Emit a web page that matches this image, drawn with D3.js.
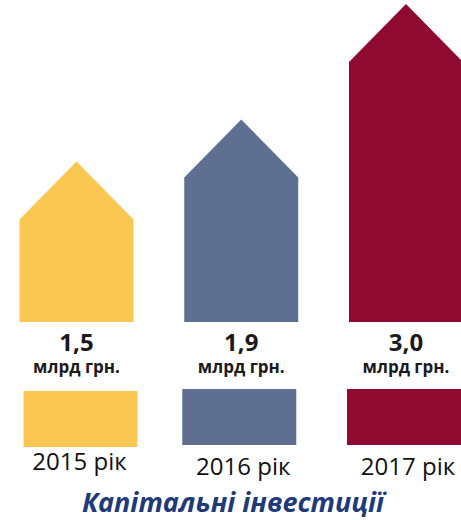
<!DOCTYPE html>
<html>
<head>
<meta charset="utf-8">
<script src="https://cdn.jsdelivr.net/npm/d3@7/dist/d3.min.js"></script>
<style>
    body { margin: 0; background: #fff; }
    svg { display: block; }
</style>
</head>
<body>
<script>
(function(){

    var years = ["2015 рік", "2016 рік", "2017 рік"];
    var values = [1.5, 1.9, 3.0];
    var valueLabels = ["1,5", "1,9", "3,0"];
    var unitLabel = "млрд грн.";
    var colors = ["#F9C752", "#5F6F92", "#8E0A31"];
    var title = "Капітальні інвестиції";

    window.onload = setChart();

    function setChart(){

        var width = 461,
            height = 520,
            baseY = 322,
            roof = 58;

        var svg = d3.select("body")
            .append("svg")
            .attr("width", width)
            .attr("height", height);

        var x = d3.scaleBand()
            .domain(years)
            .range([19.5, 463])
            .paddingInner(0.308)
            .paddingOuter(0);

        var y = d3.scaleLinear()
            .domain([0, 3.0])
            .range([319, 4]);

        var data = years.map(function(d, i){
            return {year: d, value: values[i], label: valueLabels[i], color: colors[i]};
        });

        // house shaped bars
        svg.selectAll(".bar")
            .data(data)
            .enter()
            .append("path")
            .attr("class", "bar")
            .attr("d", function(d){
                var x0 = x(d.year),
                    x1 = x0 + x.bandwidth(),
                    xc = (x0 + x1) / 2,
                    top = y(d.value);
                return "M" + x0 + "," + baseY +
                    "L" + x0 + "," + (top + roof) +
                    "L" + xc + "," + top +
                    "L" + x1 + "," + (top + roof) +
                    "L" + x1 + "," + baseY + "Z";
            })
            .style("fill", function(d){ return d.color; });

        // value labels
        svg.selectAll(".value")
            .data(data)
            .enter()
            .append("text")
            .attr("class", "value")
            .attr("x", function(d){ return x(d.year) + x.bandwidth() / 2; })
            .attr("y", 351)
            .attr("text-anchor", "middle")
            .style("font-family", "'Open Sans', sans-serif")
            .style("font-weight", "bold")
            .style("font-size", "24px")
            .style("fill", "#1a1a1a")
            .text(function(d){ return d.label; });

        svg.selectAll(".unit")
            .data(data)
            .enter()
            .append("text")
            .attr("class", "unit")
            .attr("x", function(d){ return x(d.year) + x.bandwidth() / 2; })
            .attr("y", 373)
            .attr("text-anchor", "middle")
            .style("font-family", "'Open Sans', sans-serif")
            .style("font-weight", "bold")
            .style("font-size", "17px")
            .style("fill", "#1a1a1a")
            .text(unitLabel);

        // legend swatches
        svg.selectAll(".swatch")
            .data(data)
            .enter()
            .append("rect")
            .attr("class", "swatch")
            .attr("x", function(d, i){ return x(d.year) + (i == 0 ? 4 : -2); })
            .attr("y", function(d, i){ return i == 0 ? 391 : 389; })
            .attr("width", x.bandwidth())
            .attr("height", 56)
            .style("fill", function(d){ return d.color; });

        svg.selectAll(".year")
            .data(data)
            .enter()
            .append("text")
            .attr("class", "year")
            .attr("x", function(d, i){ return x(d.year) + x.bandwidth() / 2 + (i == 0 ? 3 : 2); })
            .attr("y", function(d, i){ return i == 0 ? 470 : 475; })
            .attr("text-anchor", "middle")
            .style("font-family", "'Open Sans', sans-serif")
            .style("font-size", "24px")
            .style("fill", "#111")
            .text(function(d){ return d.year; });

        svg.append("text")
            .attr("class", "title")
            .attr("x", 233)
            .attr("y", 512)
            .attr("text-anchor", "middle")
            .style("font-family", "'Open Sans', sans-serif")
            .style("font-weight", "bold")
            .style("font-style", "italic")
            .style("font-size", "27px")
            .style("fill", "#1E3A78")
            .text(title);
    };

})();
</script>
</body>
</html>
